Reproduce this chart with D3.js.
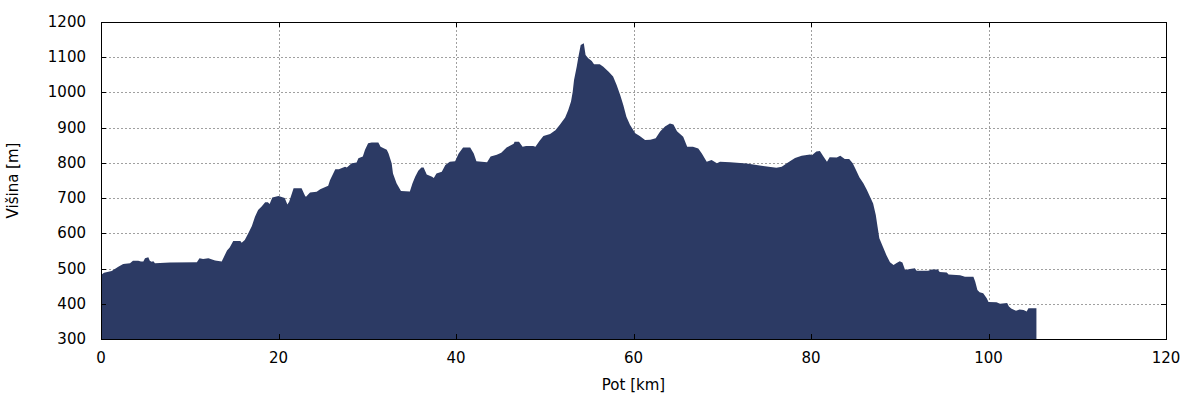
<!DOCTYPE html>
<html>
<head>
<meta charset="utf-8">
<script src="https://cdn.jsdelivr.net/npm/d3@7"></script>
<style>
  html, body { margin: 0; padding: 0; background: #fff; }
  svg { display: block; font-family: "DejaVu Sans", sans-serif; }
</style>
</head>
<body>
<svg id="chart" width="1200" height="400"></svg>
<script>
// Distance along route [km]
const distanceKm = [
  0, 0.34, 1.2, 1.95, 2.5, 3.27, 3.6, 4.2, 4.5, 4.77, 4.96, 5.33, 5.5, 5.7, 5.9, 6.08, 7.77, 10.8, 11.1, 11.5,
  12.1, 12.85, 13.6, 13.9, 14.2, 14.5, 14.9, 15.7, 15.85, 16.2, 16.6, 17.0, 17.35, 17.7, 18.1, 18.5, 18.8, 19.0, 19.3, 20.0,
  20.7, 21.0, 21.2, 21.7, 22.6, 23.0, 23.1, 23.55, 24.3, 24.7, 25.6, 25.8, 26.4, 26.8, 27.5, 27.7, 28.25, 28.8, 29.0, 29.5,
  29.75, 30.1, 30.5, 31.25, 31.5, 32.2, 32.4, 32.75, 32.9, 33.3, 33.8, 34.8, 35.1, 35.4, 35.75, 36.1, 36.35, 36.7, 37.3, 37.5,
  37.8, 38.4, 38.8, 39.3, 39.9, 40.3, 40.8, 41.6, 42.0, 42.3, 43.5, 43.9, 44.6, 45.1, 45.7, 46.5, 46.6, 47.1, 47.5, 47.9,
  48.7, 48.95, 49.4, 49.85, 50.6, 51.2, 51.7, 52.3, 52.65, 52.96, 53.15, 53.3, 53.6, 53.8, 54.05, 54.4, 54.6, 54.9, 55.3, 55.55,
  56.2, 56.6, 57.2, 57.7, 58.1, 58.5, 58.85, 59.2, 59.6, 60.2, 60.7, 61.3, 61.9, 62.5, 63.0, 63.55, 64.1, 64.5, 64.9, 65.6,
  66.05, 66.7, 67.3, 67.7, 68.25, 68.8, 69.4, 69.75, 70.9, 72.75, 74.6, 76.1, 76.7, 77.45, 78.2, 78.95, 79.9, 80.1, 80.6, 81.0,
  81.4, 81.8, 82.1, 82.9, 83.3, 83.8, 84.3, 84.7, 85.07, 85.45, 85.9, 86.3, 86.65, 87.0, 87.3, 87.5, 87.7, 88.1, 88.5, 88.9,
  89.3, 89.65, 90.0, 90.3, 90.6, 91.15, 91.7, 91.9, 93.2, 93.6, 94.3, 94.5, 95.3, 95.5, 96.8, 97.35, 98.3, 98.5, 98.75, 99.0,
  99.4, 99.8, 100.0, 100.9, 101.3, 102.1, 102.3, 102.6, 103.1, 103.5, 103.95, 104.3, 104.5, 105.4
];
// Elevation [m]
const elevationM = [
  482, 488, 493, 505, 513, 515, 522, 522, 520, 520, 529, 532, 522, 519, 521, 515, 517, 518, 529, 527,
  529, 523, 520, 536, 551, 560, 578, 578, 573, 581, 600, 621, 647, 666, 676, 688, 688, 683, 702, 706,
  700, 682, 690, 728, 728, 706, 704, 716, 718, 725, 735, 751, 782, 782, 789, 787, 799, 801, 813, 818,
  837, 856, 858, 858, 846, 837, 827, 799, 770, 742, 720, 719, 742, 761, 778, 787, 787, 767, 761, 757,
  770, 775, 794, 803, 805, 827, 844, 844, 827, 805, 802, 818, 823, 829, 844, 854, 860, 860, 846, 848,
  848, 846, 862, 876, 882, 893, 908, 929, 950, 974, 1002, 1035, 1073, 1102, 1135, 1140, 1106, 1097, 1089, 1080,
  1080, 1073, 1059, 1045, 1021, 993, 964, 931, 908, 884, 876, 865, 866, 870, 889, 903, 912, 909, 890, 874,
  846, 846, 841, 827, 803, 808, 799, 803, 802, 798, 791, 786, 789, 802, 814, 820, 824, 822, 832, 834,
  818, 803, 816, 815, 820, 811, 811, 799, 780, 759, 742, 723, 704, 685, 652, 619, 586, 562, 538, 518,
  510, 516, 521, 517, 496, 499, 501, 494, 494, 497, 497, 490, 489, 483, 481, 477, 477, 463, 439, 433,
  430, 416, 405, 404, 400, 402, 392, 386, 380, 384, 382, 378, 387, 387
];
const xTicks = [0, 20, 40, 60, 80, 100, 120];
const yTicks = [300, 400, 500, 600, 700, 800, 900, 1000, 1100, 1200];
const xTitle = "Pot [km]";
const yTitle = "Višina [m]";

const m = { left: 101, top: 22, right: 1166, bottom: 339 };
const svg = d3.select("#chart");

const x = d3.scaleLinear().domain([0, 120]).range([m.left, m.right]);
const y = d3.scaleLinear().domain([300, 1200]).range([m.bottom, m.top]);

const data = distanceKm.map((d, i) => ({ km: d, h: elevationM[i] }));

// grid
const grid = svg.append("g").attr("stroke", "#a0a0a0").attr("stroke-width", 1)
  .attr("stroke-dasharray", "2,2").attr("shape-rendering", "crispEdges");
xTicks.slice(1, -1).forEach(t => {
  grid.append("line").attr("x1", Math.round(x(t)) + 0.5).attr("x2", Math.round(x(t)) + 0.5)
    .attr("y1", m.top).attr("y2", m.bottom);
});
yTicks.slice(1, -1).forEach(t => {
  grid.append("line").attr("y1", Math.round(y(t)) + 0.5).attr("y2", Math.round(y(t)) + 0.5)
    .attr("x1", m.left).attr("x2", m.right);
});

// area
const area = d3.area().x(d => x(d.km)).y0(y(300) + 1).y1(d => y(d.h)).curve(d3.curveLinear);
svg.append("path").datum(data).attr("d", area).attr("fill", "#2c3a64");

// inward ticks, mirrored
const tickLen = 5;
const tk = svg.append("g").attr("stroke", "#000").attr("stroke-width", 1).attr("shape-rendering", "crispEdges");
xTicks.forEach(t => {
  const px = Math.round(x(t)) + 0.5;
  tk.append("line").attr("x1", px).attr("x2", px).attr("y1", m.bottom).attr("y2", m.bottom - tickLen);
  tk.append("line").attr("x1", px).attr("x2", px).attr("y1", m.top).attr("y2", m.top + tickLen);
});
yTicks.forEach(t => {
  const py = Math.round(y(t)) + 0.5;
  tk.append("line").attr("y1", py).attr("y2", py).attr("x1", m.left).attr("x2", m.left + tickLen);
  tk.append("line").attr("y1", py).attr("y2", py).attr("x1", m.right).attr("x2", m.right - tickLen);
});

// border (in front)
svg.append("rect").attr("x", m.left + 0.5).attr("y", m.top + 0.5)
  .attr("width", m.right - m.left).attr("height", m.bottom - m.top)
  .attr("fill", "none").attr("stroke", "#000").attr("stroke-width", 1).attr("shape-rendering", "crispEdges");

// tick labels
const lab = svg.append("g").attr("font-size", 15).attr("fill", "#000");
xTicks.forEach(t => {
  lab.append("text").attr("x", x(t)).attr("y", 363).attr("text-anchor", "middle").text(t);
});
yTicks.forEach(t => {
  lab.append("text").attr("x", 86).attr("y", y(t) + 5).attr("text-anchor", "end").text(t);
});

// titles
svg.append("text").attr("x", (m.left + m.right) / 2).attr("y", 390).attr("text-anchor", "middle")
  .attr("font-size", 15).text(xTitle);
svg.append("text").attr("transform", `translate(18, ${(m.top + m.bottom) / 2}) rotate(-90)`)
  .attr("text-anchor", "middle").attr("font-size", 15).text(yTitle);
</script>
</body>
</html>
